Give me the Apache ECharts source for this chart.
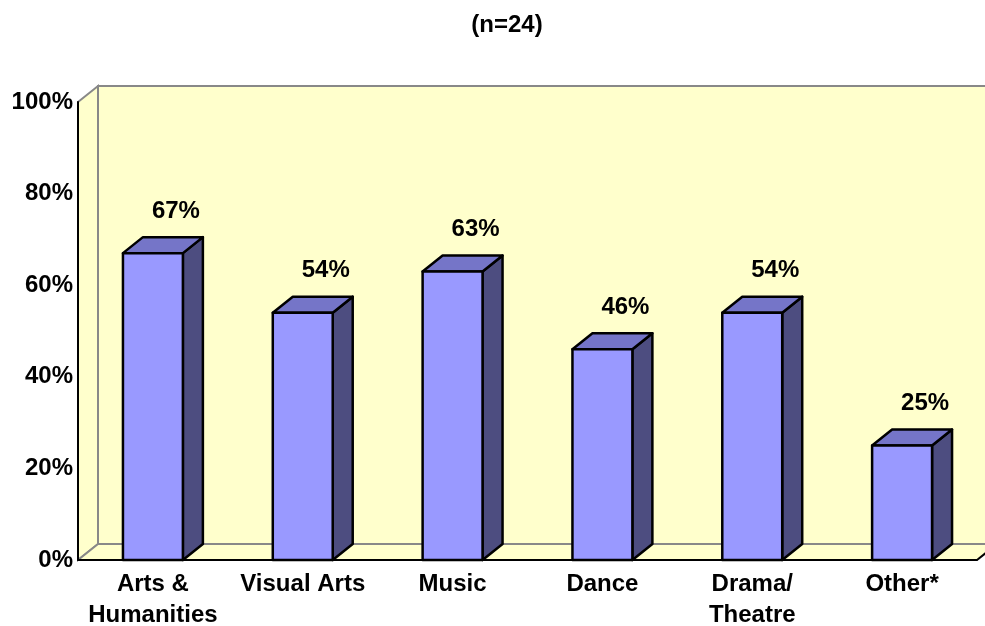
<!DOCTYPE html>
<html>
<head>
  <meta charset="utf-8">
  <title>Bar chart (n=24)</title>
  <style type="text/css">
    html, body { margin: 0; padding: 0; background: #fff; }
    #main { width: 985px; height: 626px; }
  </style>
</head>
<body>
<div id="main"></div>
<script type="text/javascript" src="https://cdn.jsdelivr.net/npm/echarts@6/dist/echarts.min.js"></script>
<script type="text/javascript">
  var categories = ['Arts &\nHumanities', 'Visual Arts', 'Music', 'Dance', 'Drama/\nTheatre', 'Other*'];
  var values = [67, 54, 63, 46, 54, 25];
  var yTicks = [0, 20, 40, 60, 80, 100];

  // 3d depth offset of the walls and the bars
  var DX = 20, DY = -16;
  var FONT = 'Liberation Sans, Arial, sans-serif';
  var FS = 24;

  var myChart = echarts.init(document.getElementById('main'));

  function renderWalls(params, api) {
    var cs = params.coordSys;
    var l = cs.x, t = cs.y, r = cs.x + cs.width, b = cs.y + cs.height;
    var fill = '#FFFFCC', edge = '#888888';
    return {
      type: 'group',
      children: [
        { type: 'polygon', shape: { points: [[l + DX, t + DY], [r + DX, t + DY], [r + DX, b + DY], [l + DX, b + DY]] },
          style: { fill: fill, stroke: edge, lineWidth: 2 } },
        { type: 'polygon', shape: { points: [[l, t], [l + DX, t + DY], [l + DX, b + DY], [l, b]] },
          style: { fill: fill, stroke: edge, lineWidth: 2 } },
        { type: 'polygon', shape: { points: [[l, b], [l + DX, b + DY], [r + DX, b + DY], [r, b]] },
          style: { fill: fill, stroke: null } },
        { type: 'line', shape: { x1: l, y1: b, x2: l + DX, y2: b + DY }, style: { stroke: edge, lineWidth: 2 } },
        { type: 'line', shape: { x1: l + DX, y1: b + DY, x2: r + DX, y2: b + DY }, style: { stroke: edge, lineWidth: 2 } },
        { type: 'line', shape: { x1: r, y1: b, x2: r + DX, y2: b + DY }, style: { stroke: '#000', lineWidth: 2 } }
      ]
    };
  }

  function renderBar(params, api) {
    var top = api.coord([api.value(0), api.value(1)]);
    var base = api.coord([api.value(0), 0]);
    var w = api.size([1, 0])[0] * 0.4;
    var x0 = top[0] - w / 2, x1 = top[0] + w / 2;
    var y0 = top[1], y1 = base[1];
    var line = { stroke: '#000', lineWidth: 2.5, lineJoin: 'round' };
    return {
      type: 'group',
      children: [
        { type: 'polygon', shape: { points: [[x1, y0], [x1 + DX, y0 + DY], [x1 + DX, y1 + DY], [x1, y1]] },
          style: Object.assign({ fill: '#4D4D80' }, line) },
        { type: 'polygon', shape: { points: [[x0, y0], [x0 + DX, y0 + DY], [x1 + DX, y0 + DY], [x1, y0]] },
          style: Object.assign({ fill: '#7575C8' }, line) },
        { type: 'rect', shape: { x: x0, y: y0, width: w, height: y1 - y0 },
          style: Object.assign({ fill: '#9999FF' }, line) },
        { type: 'text', x: top[0] + 23, y: y0 - 42,
          style: { text: api.value(1) + '%', fill: '#000', font: 'bold ' + FS + 'px ' + FONT,
                   align: 'center', verticalAlign: 'middle' } }
      ]
    };
  }

  var option = {
    animation: false,
    backgroundColor: '#fff',
    title: {
      text: '(n=24)',
      left: 502,
      top: 8,
      textAlign: 'center',
      textStyle: { fontFamily: FONT, fontWeight: 'bold', fontSize: FS, color: '#000' }
    },
    grid: { left: 78, right: 8, top: 102, bottom: 66, containLabel: false, outerBoundsMode: 'none' },
    xAxis: {
      type: 'category',
      data: categories,
      z: 5,
      axisLine: { show: true, lineStyle: { color: '#000', width: 2 } },
      axisTick: { show: false },
      axisLabel: {
        interval: 0, margin: 9, color: '#000',
        fontFamily: FONT, fontWeight: 'bold', fontSize: FS, lineHeight: 31
      }
    },
    yAxis: {
      type: 'value',
      min: yTicks[0],
      max: yTicks[yTicks.length - 1],
      interval: yTicks[1] - yTicks[0],
      z: 5,
      splitLine: { show: false },
      axisLine: { show: true, lineStyle: { color: '#000', width: 2 } },
      axisTick: { show: false },
      axisLabel: {
        margin: 5, color: '#000', formatter: '{value}%',
        fontFamily: FONT, fontWeight: 'bold', fontSize: FS
      }
    },
    series: [
      {
        type: 'custom',
        renderItem: renderWalls,
        data: [[0, 0]],
        z: 1,
        silent: true
      },
      {
        type: 'custom',
        renderItem: renderBar,
        data: values.map(function (v, i) { return [i, v]; }),
        z: 10,
        clip: false
      }
    ]
  };

  myChart.setOption(option);
</script>
</body>
</html>
